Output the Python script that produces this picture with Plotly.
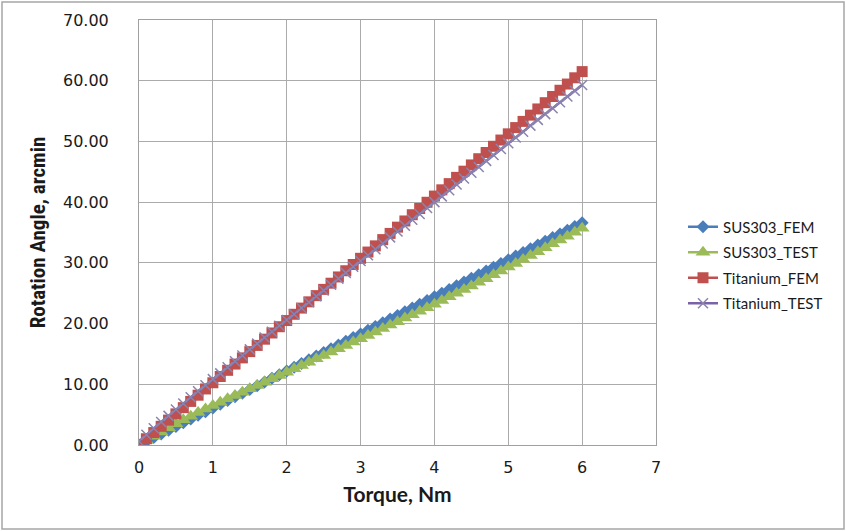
import plotly.graph_objects as go

torque = [0.0, 0.1, 0.2, 0.3, 0.4, 0.5, 0.6, 0.7, 0.8, 0.9,
          1.0, 1.1, 1.2, 1.3, 1.4, 1.5, 1.6, 1.7, 1.8, 1.9,
          2.0, 2.1, 2.2, 2.3, 2.4, 2.5, 2.6, 2.7, 2.8, 2.9,
          3.0, 3.1, 3.2, 3.3, 3.4, 3.5, 3.6, 3.7, 3.8, 3.9,
          4.0, 4.1, 4.2, 4.3, 4.4, 4.5, 4.6, 4.7, 4.8, 4.9,
          5.0, 5.1, 5.2, 5.3, 5.4, 5.5, 5.6, 5.7, 5.8, 5.9, 6.0]

sus303_fem = [0.00, 0.61, 1.22, 1.83, 2.44, 3.05, 3.66, 4.27, 4.88, 5.49,
              6.10, 6.71, 7.32, 7.93, 8.54, 9.15, 9.76, 10.37, 10.98, 11.59,
              12.20, 12.81, 13.42, 14.03, 14.64, 15.25, 15.86, 16.47, 17.08, 17.69,
              18.30, 18.91, 19.52, 20.13, 20.74, 21.35, 21.96, 22.57, 23.18, 23.79,
              24.40, 25.01, 25.62, 26.23, 26.84, 27.45, 28.06, 28.67, 29.28, 29.89,
              30.50, 31.11, 31.72, 32.33, 32.94, 33.55, 34.16, 34.77, 35.38, 35.99, 36.60]

sus303_test = [0.00, 0.75, 1.45, 2.15, 2.85, 3.50, 4.15, 4.75, 5.35, 5.95,
               6.50, 7.05, 7.60, 8.15, 8.70, 9.25, 9.80, 10.35, 10.90, 11.45,
               12.00, 12.55, 13.10, 13.65, 14.20, 14.75, 15.30, 15.85, 16.40, 16.95,
               17.50, 18.05, 18.60, 19.20, 19.75, 20.30, 20.90, 21.45, 22.05, 22.60,
               23.20, 23.80, 24.40, 25.00, 25.60, 26.20, 26.80, 27.40, 28.05, 28.65,
               29.30, 29.90, 30.55, 31.20, 31.85, 32.50, 33.15, 33.75, 34.40, 35.05, 35.70]

titanium_fem = [0.00, 1.03, 2.05, 3.08, 4.10, 5.13, 6.15, 7.18, 8.20, 9.23,
                10.25, 11.28, 12.30, 13.33, 14.35, 15.38, 16.40, 17.43, 18.45, 19.48,
                20.50, 21.53, 22.55, 23.58, 24.60, 25.63, 26.65, 27.68, 28.70, 29.73,
                30.75, 31.78, 32.80, 33.83, 34.85, 35.88, 36.90, 37.93, 38.95, 39.98,
                41.00, 42.03, 43.05, 44.08, 45.10, 46.13, 47.15, 48.18, 49.20, 50.23,
                51.25, 52.28, 53.30, 54.33, 55.35, 56.38, 57.40, 58.43, 59.45, 60.48, 61.50]

titanium_test = [0.60, 1.70, 2.75, 3.80, 4.80, 5.85, 6.85, 7.85, 8.85, 9.85,
                 10.85, 11.80, 12.80, 13.80, 14.75, 15.75, 16.70, 17.70, 18.65, 19.65,
                 20.60, 21.55, 22.55, 23.50, 24.50, 25.45, 26.40, 27.40, 28.35, 29.35,
                 30.30, 31.25, 32.25, 33.20, 34.20, 35.15, 36.10, 37.10, 38.05, 39.05,
                 40.00, 40.95, 41.95, 42.90, 43.90, 44.85, 45.80, 46.80, 47.75, 48.75,
                 49.70, 50.65, 51.60, 52.60, 53.55, 54.50, 55.45, 56.45, 57.40, 58.35, 59.30]

x_ticks = [0, 1, 2, 3, 4, 5, 6, 7]
y_ticks = [0, 10, 20, 30, 40, 50, 60, 70]

W, H = 846, 531
L, R, T, B = 139, 190, 20, 86
pw, ph = W - L - R, H - T - B

fig = go.Figure()
fig.add_trace(go.Scatter(x=torque, y=sus303_fem, name="SUS303_FEM", mode="lines+markers",
                         legendgroup="a",
                         line=dict(color="#4A7EBB", width=2.5),
                         marker=dict(symbol="diamond", size=10, color="#4A7EBB")))
fig.add_trace(go.Scatter(x=torque, y=sus303_test, name="SUS303_TEST", mode="lines+markers",
                         legendgroup="b",
                         line=dict(color="#9BBB59", width=2.5),
                         marker=dict(symbol="triangle-up", size=13, color="#9BBB59")))
fig.add_trace(go.Scatter(x=torque, y=titanium_fem, name="Titanium_FEM", mode="lines+markers",
                         legendgroup="c",
                         line=dict(color="#C0504D", width=2.5),
                         marker=dict(symbol="square", size=11, color="#C0504D")))
fig.add_trace(go.Scatter(x=torque, y=titanium_test, name="Titanium_TEST", mode="lines+markers",
                         legendgroup="d",
                         line=dict(color="#7B62A8", width=2.5),
                         marker=dict(symbol="x-thin", size=10, color="#8A84AE",
                                     line=dict(color="#8A84AE", width=1.5))))

# outer chart frame
fig.add_shape(type="rect", xref="paper", yref="paper",
              x0=(2 - L) / pw, x1=(W - 2 - L) / pw,
              y0=(T + ph - (H - 2)) / ph, y1=(T + ph - 2) / ph,
              line=dict(color="#A6A6A6", width=1.5), layer="below")

fig.update_layout(
    width=W, height=H,
    margin=dict(l=L, r=R, t=T, b=B),
    paper_bgcolor="white", plot_bgcolor="white",
    showlegend=True,
    legend=dict(x=(683 - L) / pw, y=(T + ph - 265) / ph, xanchor="left", yanchor="middle",
                font=dict(family="Lato, Open Sans, sans-serif", size=15, color="#1a1a1a"),
                bgcolor="rgba(0,0,0,0)", itemwidth=30, tracegroupgap=3,
                traceorder="grouped"),
    xaxis=dict(range=[0, 7], tickvals=x_ticks, ticktext=[str(v) for v in x_ticks],
               showgrid=True, gridcolor="#ABABAB", gridwidth=1,
               showline=True, linecolor="#A0A0A0", linewidth=1, mirror=True,
               zeroline=False, ticks="", ticklabelstandoff=8,
               tickfont=dict(family="DejaVu Sans", size=16, color="#1a1a1a"),
               title=dict(text="<b>Torque, Nm</b>", standoff=11,
                          font=dict(family="Lato, Open Sans, sans-serif", size=21, color="#1a1a1a"))),
    yaxis=dict(range=[0, 70], tickvals=y_ticks, ticktext=["%.2f" % v for v in y_ticks],
               showgrid=True, gridcolor="#ABABAB", gridwidth=1,
               showline=True, linecolor="#A0A0A0", linewidth=1, mirror=True,
               zeroline=False, ticks="", ticklabelstandoff=26,
               tickfont=dict(family="DejaVu Sans", size=16, color="#1a1a1a"),
               title=dict(text="<b>Rotation Angle, arcmin</b>", standoff=11,
                          font=dict(family="Roboto Condensed, Lato, sans-serif", size=21, color="#1a1a1a"))),
)

fig.write_html("out.html", config={"displayModeBar": False},
               post_script="document.body.style.margin='0px';")
